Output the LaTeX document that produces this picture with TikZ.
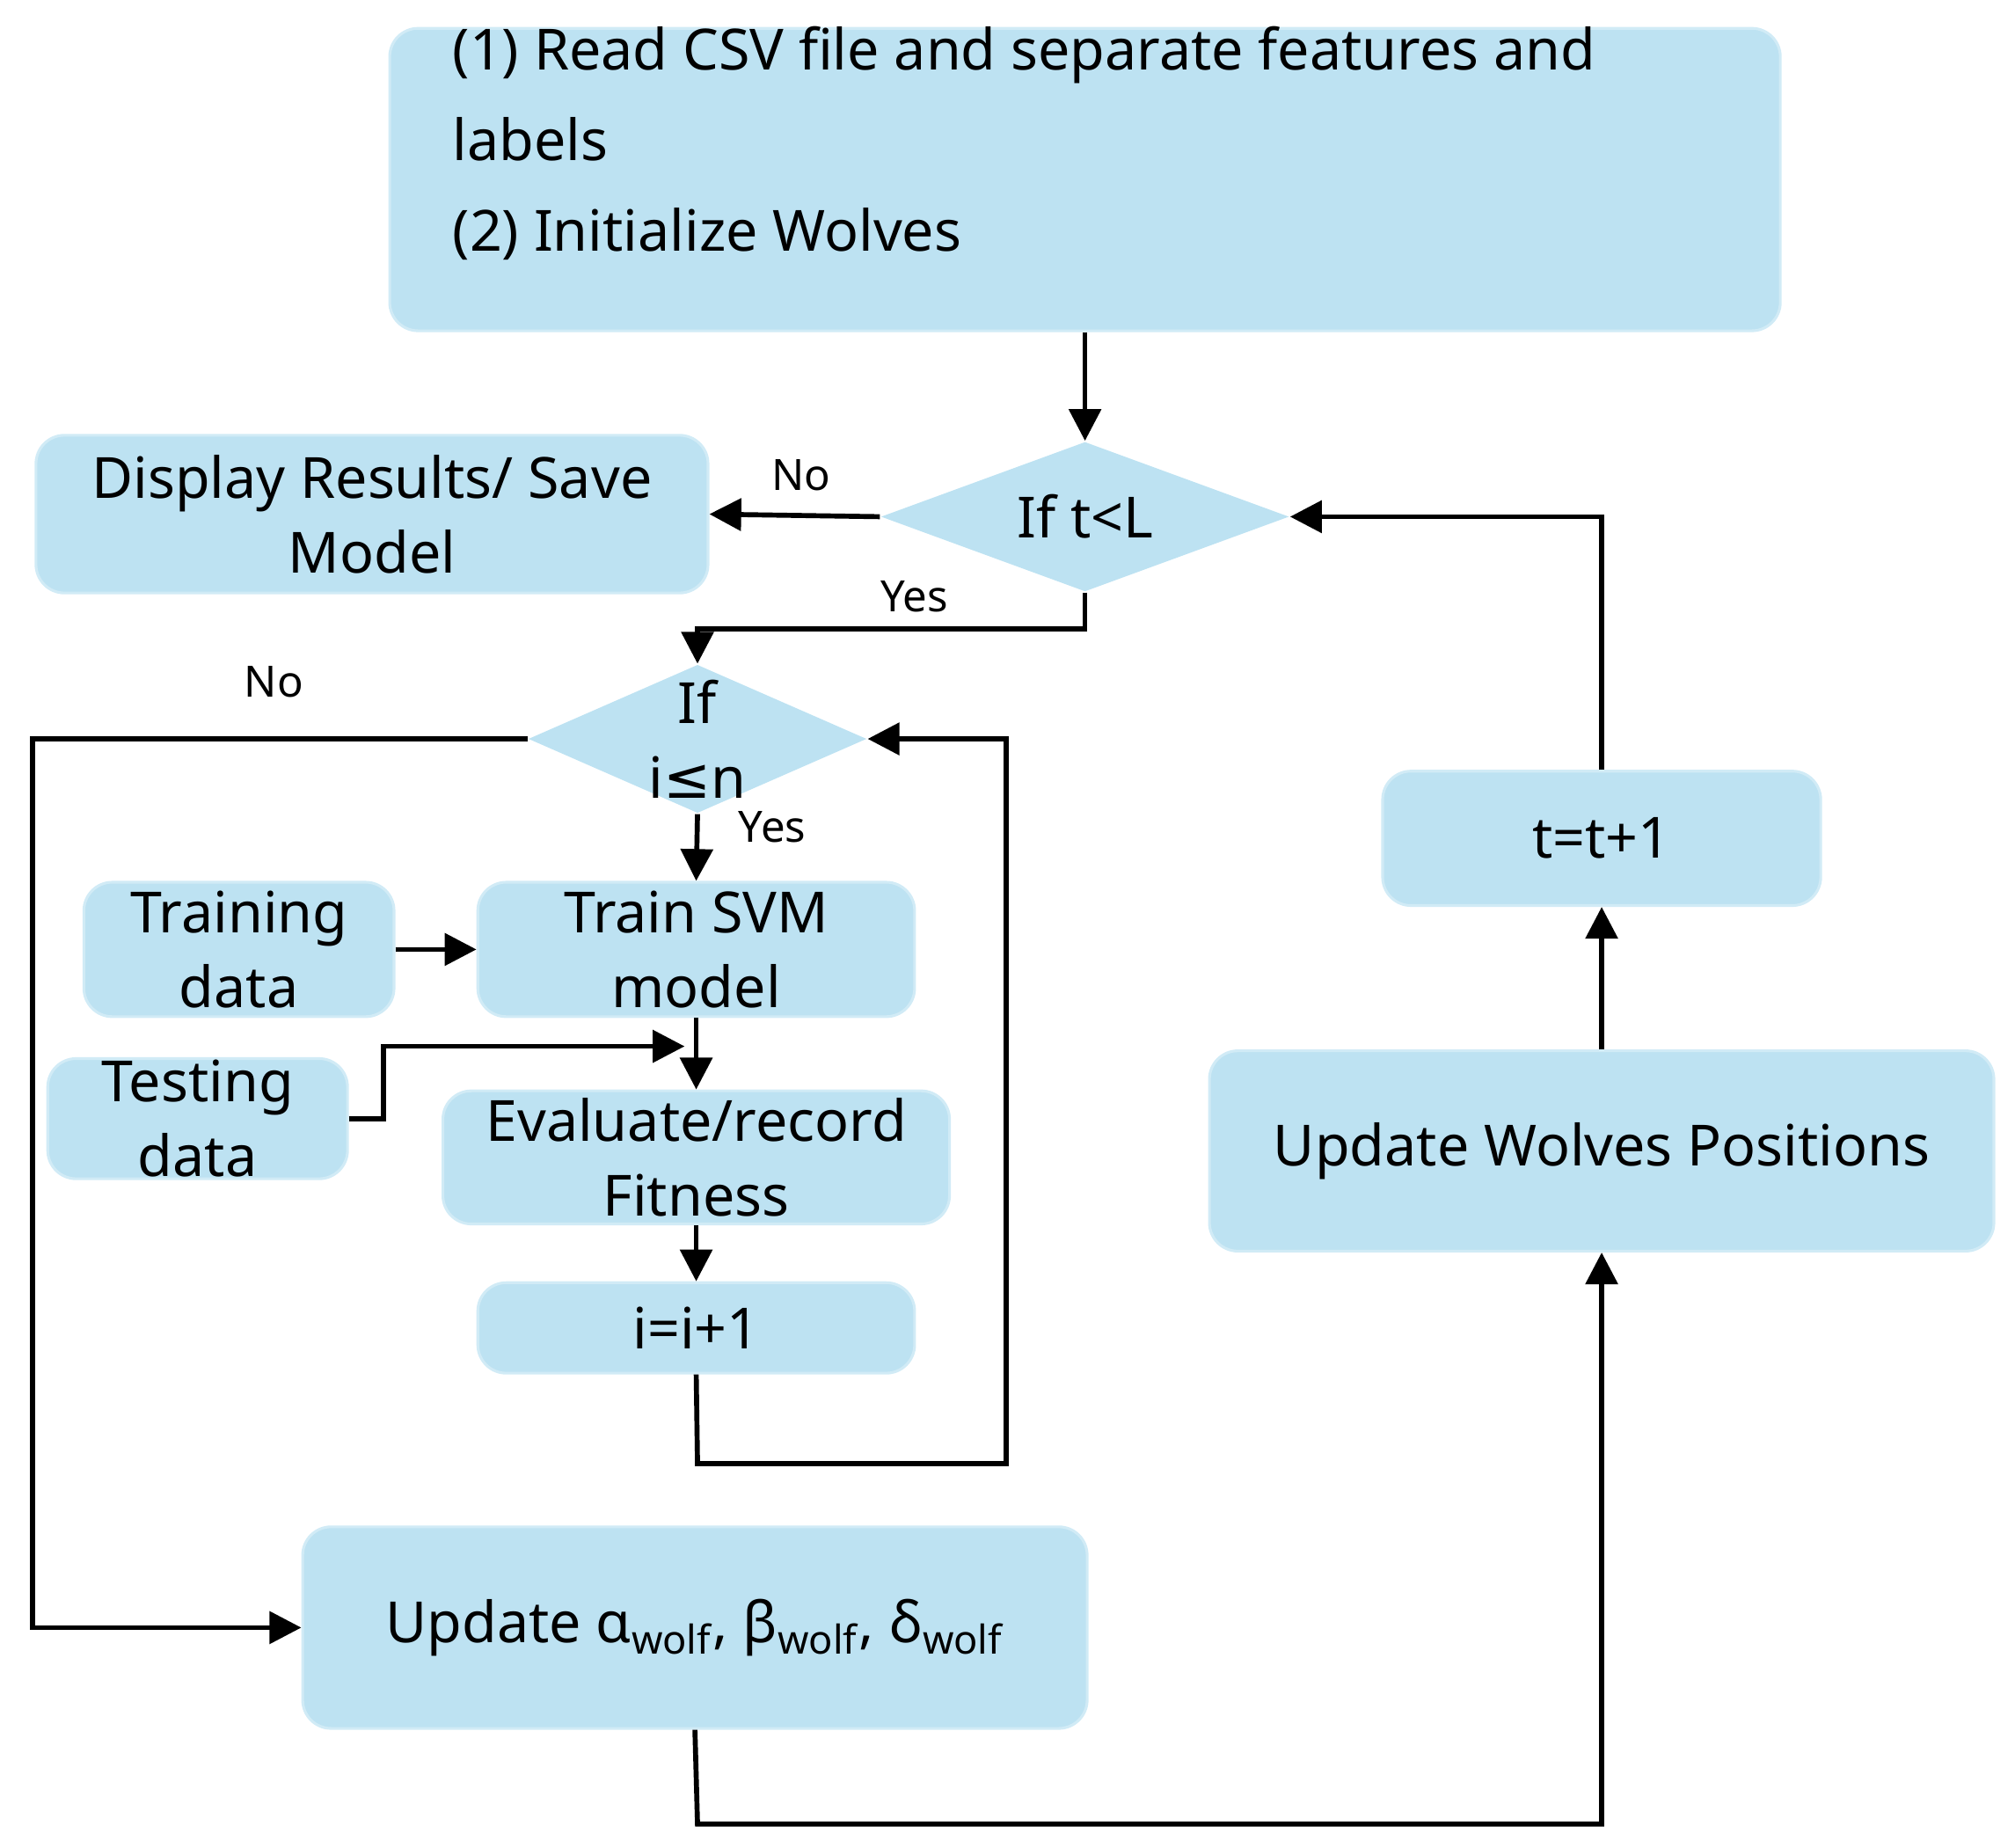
\documentclass[tikz,border=0pt]{standalone}
\usepackage{fontspec}
\setmainfont{Noto Sans}
\newfontfamily\symf{DejaVu Sans}
\usetikzlibrary{shapes.geometric,arrows.meta}
\definecolor{boxblue}{HTML}{BDE2F2}
\begin{document}
\begin{tikzpicture}[x=0.01cm,y=-0.01cm,
  box/.style={fill=boxblue,draw=boxblue!70!white,line width=0.6pt,rounded corners=0.22cm,align=center,inner sep=0pt,font=\fontsize{12.5}{16.5}\selectfont},
  dia/.style={diamond,fill=boxblue,inner sep=0pt},
  dtext/.style={align=center,font=\fontsize{12.5}{16.5}\selectfont},
  lbl/.style={font=\fontsize{9.5}{11}\selectfont},
  ar/.style={line width=1.1pt,-{Triangle[length=7pt,width=7pt]}}]
\useasboundingbox (0,0) rectangle (1560,1430);
\node[box,minimum width=10.76cm,minimum height=2.34cm] (top) at (840,139) {};
\node[align=left,anchor=west,font=\fontsize{12.5}{20}\selectfont] (toptext) at (338,111) {(1) Read CSV file and separate features and\\labels\\(2) Initialize Wolves};
\node[box,minimum width=5.2cm,minimum height=1.22cm] (disp) at (288,398) {Display Results/ Save\\Model};
\node[dia,minimum width=3.16cm,minimum height=1.16cm] (tl) at (840,400) {};
\node[dtext] (tltext) at (840,400) {If t<L};
\node[dia,minimum width=2.62cm,minimum height=1.15cm] (in) at (540,572) {};
\node[dtext] (intext) at (540,572) {If\\i{\symf ≤}n};
\node[box,minimum width=2.4cm,minimum height=1.04cm] (train) at (185,735) {Training\\data};
\node[box,minimum width=3.38cm,minimum height=1.04cm] (svm) at (539,735) {Train SVM\\model};
\node[box,minimum width=2.32cm,minimum height=0.93cm] (test) at (153,866) {Testing\\data};
\node[box,minimum width=3.92cm,minimum height=1.03cm] (eval) at (539,896) {Evaluate/record\\Fitness};
\node[box,minimum width=3.38cm,minimum height=0.7cm] (inc) at (539,1028) {i=i+1};
\node[box,minimum width=3.39cm,minimum height=1.04cm] (tinc) at (1240,649) {t=t+1};
\node[box,minimum width=6.07cm,minimum height=1.55cm] (uwp) at (1240,891) {Update Wolves Positions};
\node[box,minimum width=6.07cm,minimum height=1.56cm] (ua) at (538,1260) {Update α\textsubscript{wolf}, β\textsubscript{wolf}, δ\textsubscript{wolf}};
\coordinate (c1) at (297,810);
\node[lbl] (no1) at (620,368) {No};
\node[lbl] (yes1) at (708,462) {Yes};
\node[lbl] (no2) at (212,528) {No};
\node[lbl] (yes2) at (598,640) {Yes};
\draw[ar] (top.south) -- (tl.north);
\draw[ar] (tl.west) -- (disp.east);
\draw[ar] (tl.south) -- (840,487) -| (in.north);
\draw[ar] (in.west) -- (25,572) |- (ua.west);
\draw[ar] (in.south) -- (svm.north);
\draw[ar] (train.east) -- (svm.west);
\draw[ar] (svm.south) -- (eval.north);
\draw[ar] (test.east) -- (c1 |- test.east) -- (c1) -- (530,810);
\draw[ar] (eval.south) -- (inc.north);
\draw[ar] (inc.south) -- (540,1133) -- (779,1133) |- (in.east);
\draw[ar] (ua.south) -- (540,1412) -| (uwp.south);
\draw[ar] (uwp.north) -- (tinc.south);
\draw[ar] (tinc.north) |- (tl.east);
\end{tikzpicture}
\end{document}
